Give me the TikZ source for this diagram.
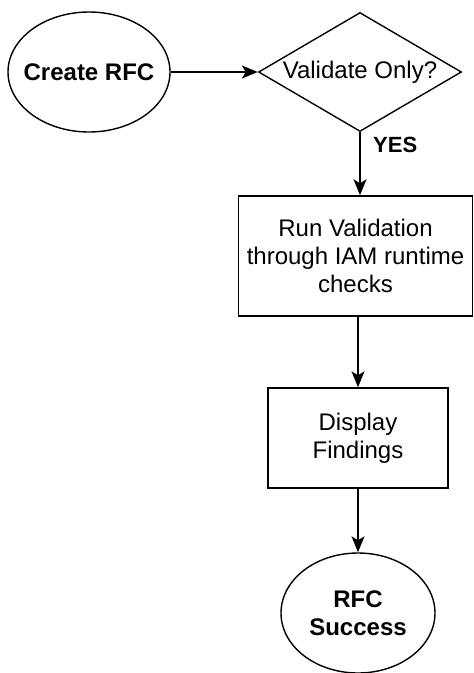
\documentclass[tikz,border=0pt]{standalone}
\usepackage{fontspec}
\setmainfont{Liberation Sans}
\usetikzlibrary{positioning,arrows.meta,shapes.geometric}

\begin{document}
\begin{tikzpicture}[
  x=1pt, y=-1pt,
  font=\fontsize{24}{28}\selectfont,
  every node/.style={align=center, inner sep=2pt},
  term/.style  ={ellipse, draw, line width=1.4pt, inner xsep=-10pt, inner ysep=0pt,
                 minimum width=162pt, minimum height=120pt,
                 font=\fontsize{24}{28}\selectfont\bfseries},
  decide/.style={diamond, draw, line width=1.4pt, aspect=1.7, inner sep=0pt,
                 minimum width=203pt, minimum height=119pt},
  proc/.style  ={rectangle, draw, line width=1.4pt},
  arr/.style   ={-{Stealth[length=16pt,width=13pt,inset=4pt]}, line width=1.4pt},
  lbl/.style   ={font=\fontsize{22}{26}\selectfont\bfseries, inner sep=0pt}
]
\useasboundingbox (0,0) rectangle (474,673);

% --- Top row: start and decision ---
\node[term]   (create) at (89,72)  {Create RFC};
\node[decide] (valid)  at (360,72) {Validate Only?};

% --- Main column ---
\node[proc, minimum width=234pt, minimum height=120pt] (runval) at (355.5,256)
  {Run Validation\\through IAM runtime\\checks};
\node[proc, minimum width=180pt, minimum height=100pt] (display) at (358,438)
  {Display\\Findings};
\node[term, minimum width=154pt] (success) at (358,613) {RFC\\Success};

% --- Branch label ---
\node[lbl, anchor=west] (yes) at (373,145) {YES};

% --- Arrows ---
\draw[arr] (create.east) -- (valid.west);
\draw[arr] (valid.south) -- (valid.south |- runval.north);
\draw[arr] (display.north |- runval.south) -- (display.north);
\draw[arr] (display.south) -- (success.north);

\end{tikzpicture}
\end{document}
